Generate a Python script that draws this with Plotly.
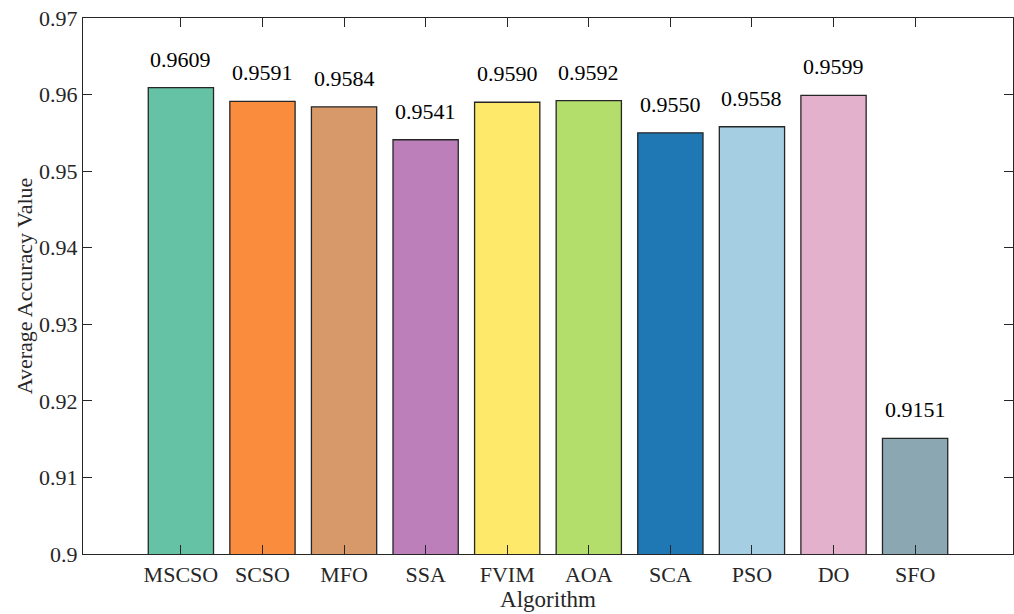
import plotly.graph_objects as go

# Average accuracy of each optimisation algorithm
algorithms = ["MSCSO", "SCSO", "MFO", "SSA", "FVIM", "AOA", "SCA", "PSO", "DO", "SFO"]
accuracy = [0.9609, 0.9591, 0.9584, 0.9541, 0.9590, 0.9592, 0.9550, 0.9558, 0.9599, 0.9151]
bar_colors = ["#66c2a5", "#f98d3d", "#d8996a", "#bd7fba", "#ffe96b",
              "#b4de6b", "#1f77b4", "#a6cee3", "#e4b1cc", "#8ba7b2"]
y_ticks = [0.90, 0.91, 0.92, 0.93, 0.94, 0.95, 0.96, 0.97]
y_tick_text = ["0.9", "0.91", "0.92", "0.93", "0.94", "0.95", "0.96", "0.97"]

FONT = "Liberation Serif, Times New Roman, serif"
INK = "#262626"

fig = go.Figure()
fig.add_trace(go.Bar(
    x=algorithms,
    y=accuracy,
    width=0.8,
    marker=dict(color=bar_colors, line=dict(color=INK, width=1.3)),
    hoverinfo="x+y",
))

# value labels above each bar
for name, val in zip(algorithms, accuracy):
    fig.add_annotation(
        x=name, y=val, text=f"{val:.4f}", showarrow=False,
        yanchor="bottom", yshift=14,
        font=dict(family=FONT, size=22, color="#000000"),
    )

fig.update_layout(
    width=1014, height=614,
    margin=dict(l=83, r=1, t=18, b=60),
    paper_bgcolor="white", plot_bgcolor="white",
    showlegend=False,
    font=dict(family=FONT, size=22, color=INK),
    bargap=0.2,
)
fig.update_xaxes(
    range=[-1.2, 10.2],
    showline=True, linecolor=INK, linewidth=1.3, mirror="ticks",
    ticks="inside", ticklen=9, tickwidth=1.3, tickcolor=INK,
    showgrid=False, zeroline=False,
    tickfont=dict(family=FONT, size=22, color=INK),
    title=dict(text="Algorithm", standoff=1,
               font=dict(family=FONT, size=23, color=INK)),
)
fig.update_yaxes(
    range=[0.9, 0.97],
    tickvals=y_ticks, ticktext=y_tick_text,
    showline=True, linecolor=INK, linewidth=1.3, mirror="ticks",
    ticks="inside", ticklen=9, tickwidth=1.3, tickcolor=INK,
    showgrid=False, zeroline=False,
    tickfont=dict(family=FONT, size=22, color=INK),
    title=dict(text="Average Accuracy Value", standoff=0,
               font=dict(family=FONT, size=22, color=INK)),
)

fig.write_html("out.html")
